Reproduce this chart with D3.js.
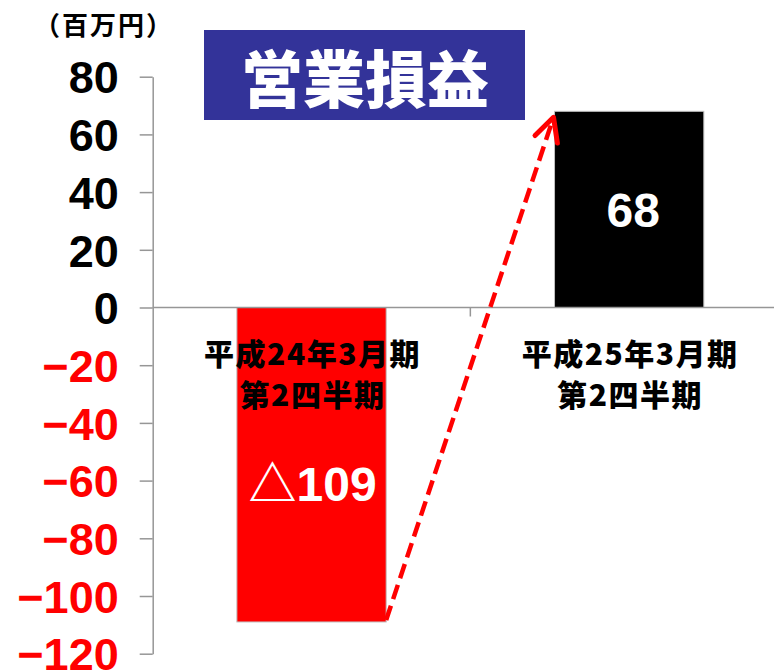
<!DOCTYPE html>
<html>
<head>
<meta charset="utf-8">
<script src="https://cdn.jsdelivr.net/npm/d3@7"></script>
<style>
  html, body { margin: 0; padding: 0; background: #ffffff; }
  svg { display: block; }
</style>
</head>
<body>
<svg id="chart" width="774" height="672"></svg>
<script>
// ---- data ----
const categoriesLine1 = ["平成24年3月期", "平成25年3月期"];
const categoriesLine2 = ["第2四半期", "第2四半期"];
const values = [-109, 68];
const valueLabels = ["△109", "68"];
const tickValues = [80, 60, 40, 20, 0, -20, -40, -60, -80, -100, -120];
const unitLabel = "（百万円）";
const titleText = "営業損益";

// ---- layout ----
const W = 774, H = 672;
const svg = d3.select("#chart");
const axisX = 152.7;

const y = d3.scaleLinear().domain([-120, 80]).range([653.7, 76.7]);
const x = d3.scaleBand().domain(d3.range(values.length)).range([axisX, 788]).paddingInner(0).paddingOuter(0);
const barW = x.bandwidth() * 0.47;
const cx = i => x(i) + x.bandwidth() / 2;

const RED = "#ff0000";
const CJK = "'Noto Sans CJK JP', 'Noto Sans CJK SC', sans-serif";
const LAT = "'Liberation Sans', Arial, 'DejaVu Sans', 'Noto Sans CJK JP', sans-serif";

// bars
svg.append("g").selectAll("rect").data(values).join("rect")
  .attr("x", (d, i) => cx(i) - barW / 2)
  .attr("width", barW)
  .attr("y", d => y(Math.max(0, d)))
  .attr("height", d => Math.abs(y(d) - y(0)))
  .attr("fill", d => d < 0 ? RED : "#000000")
  .attr("stroke", "#bfbfbf")
  .attr("stroke-width", 1);

// y axis
const yAxis = d3.axisLeft(y).tickValues(tickValues).tickSize(13).tickSizeOuter(0).tickPadding(21)
  .tickFormat(d => d < 0 ? "\u2212" + Math.abs(d) : String(d));
const gy = svg.append("g").attr("transform", `translate(${axisX},0)`).call(yAxis);
gy.select(".domain").attr("stroke", "#969696").attr("stroke-width", 1.5);
gy.selectAll(".tick line").attr("stroke", "#969696").attr("stroke-width", 1.5);
gy.selectAll(".tick text")
  .attr("font-family", LAT).attr("font-weight", "bold").attr("font-size", 45)
  .attr("fill", d => d < 0 ? RED : "#000000")
  .attr("dy", "0.36em");

// zero baseline with category dividers
svg.append("line")
  .attr("x1", axisX).attr("x2", W + 20)
  .attr("y1", y(0)).attr("y2", y(0))
  .attr("stroke", "#969696").attr("stroke-width", 1.5);
svg.append("g").selectAll("line").data(d3.range(1, values.length + 1)).join("line")
  .attr("x1", i => x(i - 1) + x.bandwidth()).attr("x2", i => x(i - 1) + x.bandwidth())
  .attr("y1", y(0)).attr("y2", y(0) + 9)
  .attr("stroke", "#969696").attr("stroke-width", 1.5);

// category labels
const cat = svg.append("g").attr("font-family", CJK).attr("font-weight", 900)
  .attr("font-size", 30).attr("fill", "#000").attr("text-anchor", "middle")
  .attr("letter-spacing", 1.5);
cat.selectAll("text.l1").data(categoriesLine1).join("text").attr("class", "l1")
  .attr("x", (d, i) => cx(i) + 1).attr("y", y(0) + 47).attr("dy", "0.35em").text(d => d);
cat.selectAll("text.l2").data(categoriesLine2).join("text").attr("class", "l2")
  .attr("x", (d, i) => cx(i) + 1).attr("y", y(0) + 88).attr("dy", "0.35em").text(d => d);

// value labels
const vl = svg.append("g").selectAll("text").data(values).join("text")
  .attr("x", (d, i) => cx(i) + (d < 0 ? 1 : 4))
  .attr("y", d => d < 0 ? y(d * 0.56) : y(d / 2))
  .attr("dy", "0.36em")
  .attr("text-anchor", "middle")
  .attr("font-family", LAT).attr("font-weight", "bold").attr("font-size", 48)
  .attr("fill", "#ffffff");
vl.each(function (d, i) {
  const s = valueLabels[i];
  const t = d3.select(this);
  if (s.startsWith("△")) {
    t.append("tspan").attr("font-family", CJK).attr("font-weight", "bold").text("△");
    t.append("tspan").text(s.slice(1));
  } else {
    t.text(s);
  }
});

// dashed arrow from bottom-right of first bar to top-left of second bar
const x0 = cx(0) + barW / 2, y0 = y(values[0]) - 2;
const x1 = cx(1) - barW / 2 - 1, y1 = y(values[1]) + 6;
svg.append("line")
  .attr("x1", x0).attr("y1", y0).attr("x2", x1).attr("y2", y1)
  .attr("stroke", RED).attr("stroke-width", 4.5)
  .attr("stroke-dasharray", "15,7");
const ang = Math.atan2(y0 - y1, x0 - x1);
const hl = 26, ha = 27 * Math.PI / 180;
const p1 = [x1 + hl * Math.cos(ang + ha), y1 + hl * Math.sin(ang + ha)];
const p2 = [x1 + hl * Math.cos(ang - ha), y1 + hl * Math.sin(ang - ha)];
svg.append("path")
  .attr("d", d3.line()([p1, [x1, y1], p2]))
  .attr("fill", "none").attr("stroke", RED).attr("stroke-width", 5)
  .attr("stroke-linejoin", "round").attr("stroke-linecap", "round");

// title box
svg.append("rect").attr("x", 204).attr("y", 30).attr("width", 321).attr("height", 90).attr("fill", "#333399");
svg.append("text").attr("x", 365).attr("y", 81).attr("dy", "0.36em")
  .attr("text-anchor", "middle").attr("font-family", CJK).attr("font-weight", 900)
  .attr("font-size", 62).attr("fill", "#ffffff").text(titleText);

// unit label
svg.append("text").attr("x", 104).attr("y", 26).attr("dy", "0.36em")
  .attr("text-anchor", "middle").attr("font-family", CJK).attr("font-weight", "bold")
  .attr("font-size", 26).attr("letter-spacing", 2).attr("fill", "#000").text(unitLabel);
</script>
</body>
</html>
